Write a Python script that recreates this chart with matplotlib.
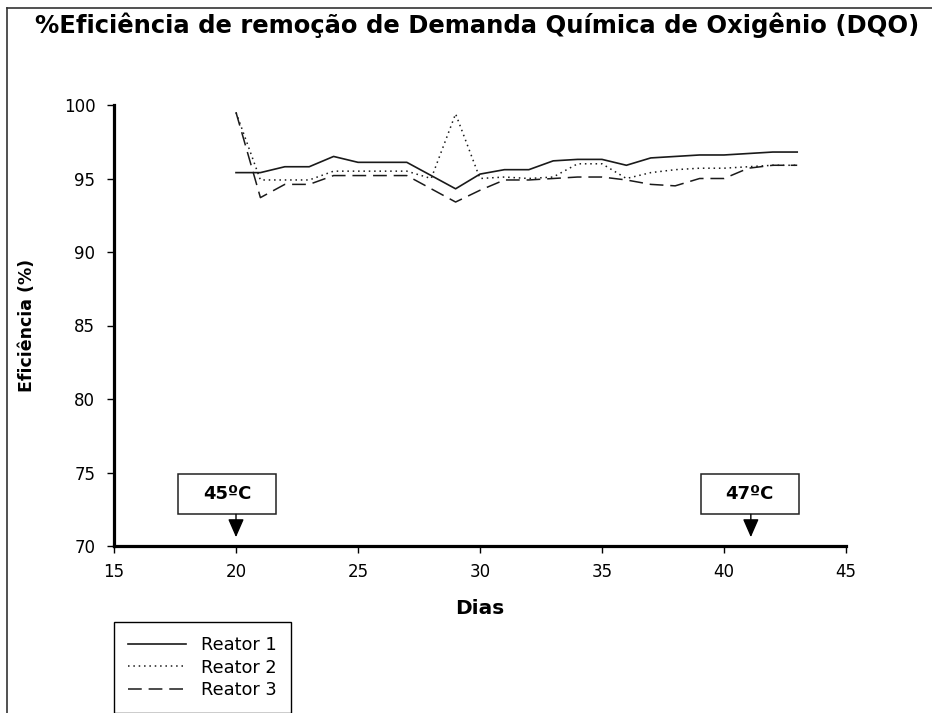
import numpy as np
import matplotlib.pyplot as plt
from matplotlib.lines import Line2D
from matplotlib.patches import Rectangle

plt.rcParams["font.family"] = ["DejaVu Sans"]

# dados
dias = list(range(20, 44))
reator1 = [95.4, 95.4, 95.8, 95.8, 96.5, 96.1, 96.1, 96.1, 95.2, 94.3, 95.3, 95.6,
           95.6, 96.2, 96.3, 96.3, 95.9, 96.4, 96.5, 96.6, 96.6, 96.7, 96.8, 96.8]
reator2 = [99.5, 94.9, 94.9, 94.9, 95.5, 95.5, 95.5, 95.5, 95.0, 99.4, 95.0, 95.1,
           95.0, 95.1, 96.0, 96.0, 95.0, 95.4, 95.6, 95.7, 95.7, 95.8, 95.9, 95.9]
reator3 = [99.5, 93.7, 94.6, 94.6, 95.2, 95.2, 95.2, 95.2, 94.3, 93.4, 94.2, 94.9,
           94.9, 95.0, 95.1, 95.1, 94.9, 94.6, 94.5, 95.0, 95.0, 95.7, 95.9, 95.9]
nomes = ["Reator 1", "Reator 2", "Reator 3"]

x_ticks = [15, 20, 25, 30, 35, 40, 45]
y_ticks = [70, 75, 80, 85, 90, 95, 100]

# marcas de temperatura: (texto, centro da caixa, dia da seta)
temperaturas = [("45ºC", 19.63, 20.0), ("47ºC", 41.06, 41.1)]

fig = plt.figure(figsize=(9.32, 7.13), dpi=100)
ax = fig.add_axes([114 / 932, 1 - 546 / 713, (846 - 114) / 932, (546 - 105) / 713])

cor = "#1a1a1a"
ax.plot(dias, reator1, color=cor, lw=1.2, linestyle="-", label=nomes[0])
ax.plot(dias, reator2, color=cor, lw=1.1, linestyle=(0, (1, 2.5)), label=nomes[1])
ax.plot(dias, reator3, color=cor, lw=1.1, linestyle=(0, (9, 4.5)), label=nomes[2])

ax.set_xlim(15, 45)
ax.set_ylim(70, 100)
ax.set_xticks(x_ticks)
ax.set_yticks(y_ticks)
ax.tick_params(direction="out", length=5, width=1, labelsize=12)
ax.tick_params(axis="x", pad=7)
ax.tick_params(axis="y", pad=8.5)

for s in ["top", "right"]:
    ax.spines[s].set_visible(False)
for s in ["left", "bottom"]:
    ax.spines[s].set_linewidth(2.3)

ax.set_xlabel("Dias", fontsize=14.5, fontweight="bold", labelpad=13)
ax.set_ylabel("Eficiência (%)", fontsize=12.5, fontweight="bold", labelpad=20)

# caixas com setas
for texto, xc, xd in temperaturas:
    bw, bh, base = 4.03, 2.75, 72.15
    ax.add_patch(Rectangle((xc - bw / 2, base), bw, bh, fill=False,
                           edgecolor="#222222", lw=1.1, clip_on=False, zorder=3))
    ax.text(xc, base + bh / 2, texto, ha="center", va="center",
            fontsize=13, fontweight="bold", zorder=4)
    ax.annotate("", xy=(xd, 70.6), xytext=(xd, base),
                arrowprops=dict(arrowstyle="-|>,head_length=0.8,head_width=0.35",
                                color="black", lw=1, shrinkA=0, shrinkB=0,
                                mutation_scale=14))

fig.text(35 / 932, 1 - 25 / 713, "%Eficiência de remoção de Demanda Química de Oxigênio (DQO)",
         fontsize=17.5, fontweight="bold", ha="left", va="center")

leg = fig.legend(loc="upper left", bbox_to_anchor=(114 / 932, 1 - 622 / 713),
                 borderaxespad=0, fancybox=False, edgecolor="black", framealpha=1,
                 fontsize=12.8, handlelength=3.25, handletextpad=0.84,
                 labelspacing=0.25, borderpad=0.8)
leg.get_frame().set_linewidth(1)

# moldura da figura (topo e lado esquerdo)
fig.add_artist(Line2D([7 / 932, 1], [1 - 8 / 713, 1 - 8 / 713], color="#333333", lw=1.2))
fig.add_artist(Line2D([7 / 932, 7 / 932], [0, 1 - 8 / 713], color="#333333", lw=1.2))

fig.savefig("out.png", dpi=100)
